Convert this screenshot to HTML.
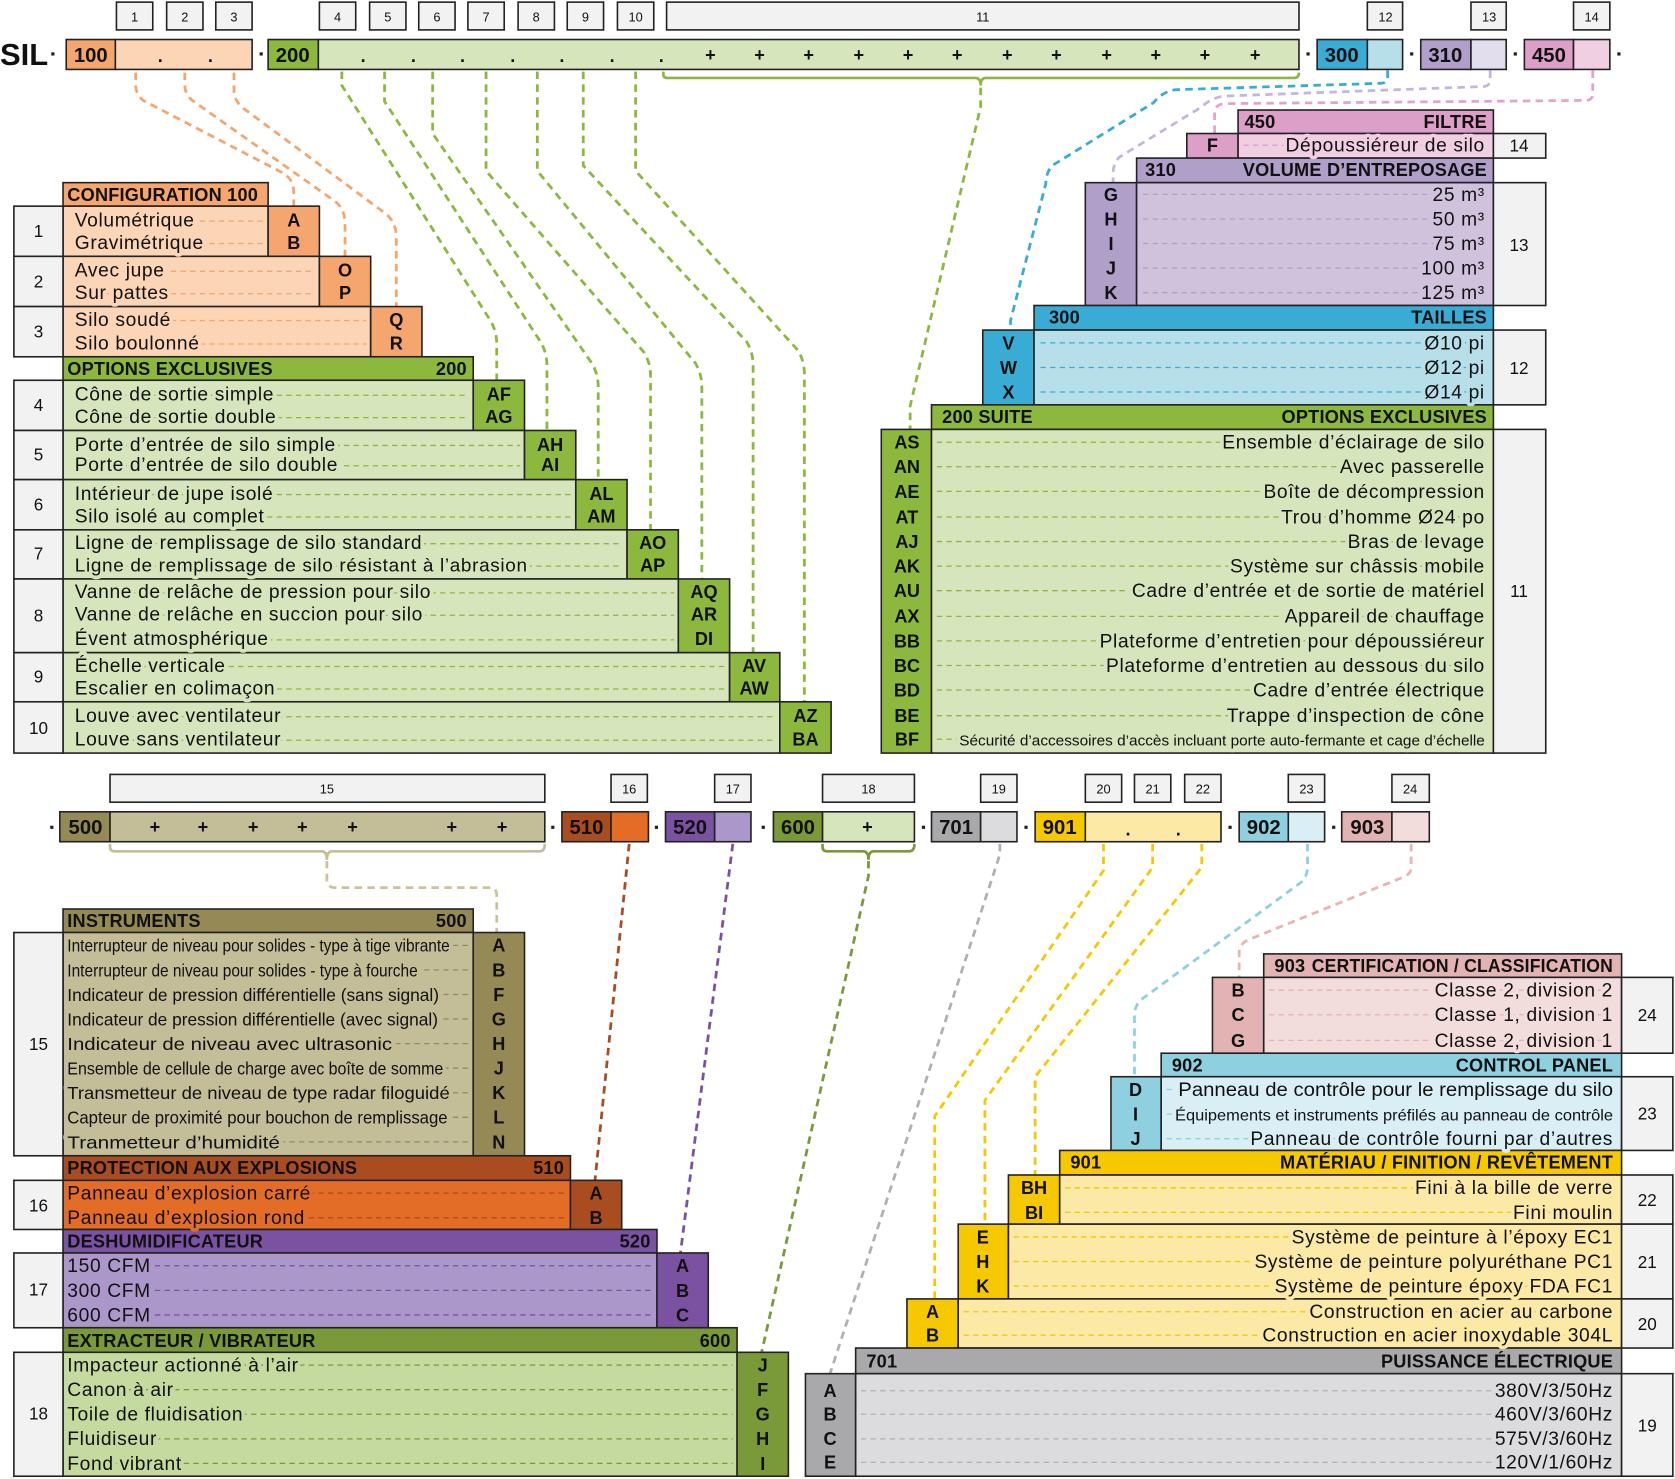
<!DOCTYPE html>
<html><head><meta charset="utf-8">
<style>
html,body{margin:0;padding:0;background:#fff}
svg{display:block}
text{font-family:"Liberation Sans",sans-serif;fill:#111}
.t{font-size:18px;letter-spacing:0.6px;paint-order:stroke;stroke-width:7px;stroke-linejoin:round}
.h{font-size:17px;font-weight:bold;letter-spacing:0.2px}
.c{font-size:17px;font-weight:bold;text-anchor:middle}
.n{font-size:12px;text-anchor:middle;fill:#222}
.nb{font-size:16px;text-anchor:middle}
.e{text-anchor:end}
.bx{stroke:#222;stroke-width:1.5}
.ld{stroke-width:1.2;stroke-dasharray:5 4;fill:none}
.cn{fill:none;stroke-width:2.6;stroke-dasharray:7 5}
.k{font-size:19px;font-weight:bold;text-anchor:middle}
</style></head><body>
<svg width="1675" height="1479" viewBox="0 0 1568 1384.6" preserveAspectRatio="none" xmlns="http://www.w3.org/2000/svg">
<rect width="1568" height="1385" fill="#fff"/>

<g fill="#f2f2f2" class="bx">
<rect x="109" y="2" width="34" height="26"/><rect x="156" y="2" width="34" height="26"/><rect x="202" y="2" width="34" height="26"/>
<rect x="299" y="2" width="34" height="26"/><rect x="346" y="2" width="34" height="26"/><rect x="392" y="2" width="34" height="26"/>
<rect x="438" y="2" width="34" height="26"/><rect x="485" y="2" width="34" height="26"/><rect x="531" y="2" width="34" height="26"/>
<rect x="578" y="2" width="34" height="26"/><rect x="624" y="2" width="592" height="26"/>
<rect x="1280" y="2" width="33" height="26"/><rect x="1377" y="2" width="33" height="26"/><rect x="1473" y="2" width="34" height="26"/>
</g>
<g class="n">
<text x="126" y="20">1</text><text x="173" y="20">2</text><text x="219" y="20">3</text><text x="316" y="20">4</text><text x="363" y="20">5</text>
<text x="409" y="20">6</text><text x="455" y="20">7</text><text x="502" y="20">8</text><text x="548" y="20">9</text><text x="595" y="20">10</text>
<text x="920" y="20">11</text><text x="1297" y="20">12</text><text x="1394" y="20">13</text><text x="1490" y="20">14</text>
</g>

<text x="0" y="61" style="font-size:29px;font-weight:bold">SIL</text>
<g fill="#222"><rect x="48" y="49" width="3" height="3"/><rect x="243" y="49" width="3" height="3"/><rect x="1223" y="49" width="3" height="3"/><rect x="1320" y="49" width="3" height="3"/><rect x="1417" y="49" width="3" height="3"/><rect x="1514" y="49" width="3" height="3"/></g>
<g class="bx">
<rect x="62" y="37" width="46" height="28" fill="#f5a66e"/><rect x="108" y="37" width="128" height="28" fill="#fbd5b5"/>
<rect x="251" y="37" width="47" height="28" fill="#8db83e"/><rect x="298" y="37" width="918" height="28" fill="#d7e5bd"/>
<rect x="1233" y="37" width="47" height="28" fill="#39acd6"/><rect x="1280" y="37" width="33" height="28" fill="#b6dfea"/>
<rect x="1330" y="37" width="47" height="28" fill="#b09fc8"/><rect x="1377" y="37" width="33" height="28" fill="#e3deed"/>
<rect x="1427" y="37" width="46" height="28" fill="#dc9fc8"/><rect x="1473" y="37" width="34" height="28" fill="#f0cfe3"/>
</g>
<g class="k"><text x="85" y="58">100</text><text x="274" y="58">200</text><text x="1256" y="58">300</text><text x="1353" y="58">310</text><text x="1450" y="58">450</text></g>
<g class="k" style="font-size:17px">
<text x="150" y="58">.</text><text x="197" y="58">.</text>
<text x="340" y="58">.</text><text x="387" y="58">.</text><text x="433" y="58">.</text><text x="480" y="58">.</text><text x="526" y="58">.</text><text x="573" y="58">.</text><text x="619" y="58">.</text>
<text x="665" y="57">+</text><text x="711" y="57">+</text><text x="757" y="57">+</text><text x="804" y="57">+</text><text x="850" y="57">+</text><text x="896" y="57">+</text>
<text x="943" y="57">+</text><text x="989" y="57">+</text><text x="1036" y="57">+</text><text x="1082" y="57">+</text><text x="1128" y="57">+</text><text x="1175" y="57">+</text>
</g>
<path d="M621,67 V70 Q621,73 625,73 H913 Q918,73 918,80 Q918,73 923,73 H1211 Q1216,73 1216,68" fill="none" stroke="#8db83e" stroke-width="2.5"/>

<g class="cn" stroke="#f5a66e">
<path d="M127,68 V80 Q127,88 134,94 L265,162 Q275,168 275,180 V195"/>
<path d="M173,68 V80 Q173,88 180,94 L313,188 Q323,195 323,210 V241"/>
<path d="M219,68 V85 Q219,93 226,100 L361,200 Q371,208 371,222 V288"/>
</g>
<g class="cn" stroke="#8db83e">
<path d="M320,67 V80 L459,300 Q465,310 465,322 V357"/>
<path d="M360,67 V95 L506,320 Q512,330 512,342 V404"/>
<path d="M405,67 V125 L554,340 Q560,350 560,362 V450"/>
<path d="M455,67 V160 L603,330 Q609,340 609,352 V497"/>
<path d="M503,67 V160 L651,340 Q657,350 657,362 V543"/>
<path d="M546,67 V155 L699,320 Q705,330 705,342 V612"/>
<path d="M595,67 V160 L747,328 Q753,338 753,350 V658"/>
<path d="M918,82 V100 L852,380 V403"/>
</g>
<path class="cn" stroke="#39acd6" d="M1299,66 V72 Q1299,78 1292,78 L1100,84 Q1088,86 1080,96 L985,155 Q979,162 979,172 L946,300 V310"/>
<path class="cn" stroke="#c6b5dc" d="M1395,66 V74 Q1395,81 1388,81 L1145,90 Q1133,92 1125,100 L1048,147 Q1042,153 1042,162 V172"/>
<path class="cn" stroke="#e2a3cf" d="M1491,66 V88 Q1491,94 1484,94 L1146,97 Q1137,98 1137,106 V126"/>

<g class="bx">
<rect x="59" y="171" width="192" height="22" fill="#f5a66e"/>
<rect x="59" y="193" width="192" height="47" fill="#fbd5b5"/><rect x="251" y="193" width="48" height="47" fill="#f5a66e"/>
<rect x="59" y="240" width="240" height="47" fill="#fbd5b5"/><rect x="299" y="240" width="48" height="47" fill="#f5a66e"/>
<rect x="59" y="287" width="288" height="47" fill="#fbd5b5"/><rect x="347" y="287" width="48" height="47" fill="#f5a66e"/>
<rect x="59" y="334" width="384" height="22" fill="#8db83e"/>
<rect x="59" y="356" width="384" height="47" fill="#d7e5bd"/><rect x="443" y="356" width="48" height="47" fill="#8db83e"/>
<rect x="59" y="403" width="432" height="46" fill="#d7e5bd"/><rect x="491" y="403" width="48" height="46" fill="#8db83e"/>
<rect x="59" y="449" width="480" height="47" fill="#d7e5bd"/><rect x="539" y="449" width="48" height="47" fill="#8db83e"/>
<rect x="59" y="496" width="528" height="46" fill="#d7e5bd"/><rect x="587" y="496" width="48" height="46" fill="#8db83e"/>
<rect x="59" y="542" width="576" height="69" fill="#d7e5bd"/><rect x="635" y="542" width="48" height="69" fill="#8db83e"/>
<rect x="59" y="611" width="624" height="46" fill="#d7e5bd"/><rect x="683" y="611" width="47" height="46" fill="#8db83e"/>
<rect x="59" y="657" width="671" height="48" fill="#d7e5bd"/><rect x="730" y="657" width="48" height="48" fill="#8db83e"/>
</g>
<g class="bx" fill="#f2f2f2">
<rect x="13" y="193" width="46" height="47"/><rect x="13" y="240" width="46" height="47"/><rect x="13" y="287" width="46" height="47"/>
<rect x="13" y="356" width="46" height="47"/><rect x="13" y="403" width="46" height="46"/><rect x="13" y="449" width="46" height="47"/>
<rect x="13" y="496" width="46" height="46"/><rect x="13" y="542" width="46" height="69"/><rect x="13" y="611" width="46" height="46"/><rect x="13" y="657" width="46" height="48"/>
</g>
<g class="nb"><text x="36" y="222">1</text><text x="36" y="269">2</text><text x="36" y="316">3</text><text x="36" y="385">4</text><text x="36" y="431">5</text><text x="36" y="478">6</text><text x="36" y="524">7</text><text x="36" y="582">8</text><text x="36" y="639">9</text><text x="36" y="687">10</text></g>
<g class="h"><text x="63" y="188">CONFIGURATION 100</text><text x="63" y="351">OPTIONS EXCLUSIVES</text><text x="437" y="351" class="e">200</text></g>
<g class="ld" stroke="#f5a66e">
<path d="M70,207H247M70,228H247M70,254H295M70,275H295M70,300H343M70,322H343"/>
</g>
<g class="ld" stroke="#8db83e">
<path d="M70,370H439M70,391H439M70,417H487M70,436H487M70,463H535M70,484H535M70,509H583M70,530H583M70,555H631M70,576H631M70,599H631M70,624H679M70,645H679M70,671H726M70,693H726"/>
</g>
<g class="t" style="stroke:#fbd5b5">
<text x="70" y="212">Volumétrique</text><text x="70" y="233">Gravimétrique</text>
<text x="70" y="259">Avec jupe</text><text x="70" y="280">Sur pattes</text>
<text x="70" y="305">Silo soudé</text><text x="70" y="327">Silo boulonné</text>
</g>
<g class="t" style="stroke:#d7e5bd">
<text x="70" y="375">Cône de sortie simple</text><text x="70" y="396">Cône de sortie double</text>
<text x="70" y="422">Porte d’entrée de silo simple</text><text x="70" y="441">Porte d’entrée de silo double</text>
<text x="70" y="468">Intérieur de jupe isolé</text><text x="70" y="489">Silo isolé au complet</text>
<text x="70" y="514">Ligne de remplissage de silo standard</text><text x="70" y="535" textLength="424" lengthAdjust="spacingAndGlyphs" style="font-size:17px">Ligne de remplissage de silo résistant à l’abrasion</text>
<text x="70" y="560">Vanne de relâche de pression pour silo</text><text x="70" y="581">Vanne de relâche en succion pour silo</text><text x="70" y="604">Évent atmosphérique</text>
<text x="70" y="629">Échelle verticale</text><text x="70" y="650">Escalier en colimaçon</text>
<text x="70" y="676">Louve avec ventilateur</text><text x="70" y="698">Louve sans ventilateur</text>
</g>
<g class="c">
<text x="275" y="212">A</text><text x="275" y="233">B</text><text x="323" y="259">O</text><text x="323" y="280">P</text><text x="371" y="305">Q</text><text x="371" y="327">R</text>
<text x="467" y="375">AF</text><text x="467" y="396">AG</text><text x="515" y="422">AH</text><text x="515" y="441">AI</text>
<text x="563" y="468">AL</text><text x="563" y="489">AM</text><text x="611" y="514">AO</text><text x="611" y="535">AP</text>
<text x="659" y="560">AQ</text><text x="659" y="581">AR</text><text x="659" y="604">DI</text>
<text x="706" y="629">AV</text><text x="706" y="650">AW</text><text x="754" y="676">AZ</text><text x="754" y="698">BA</text>
</g>

<g class="bx">
<rect x="1159" y="103" width="239" height="22" fill="#dc9fc8"/>
<rect x="1111" y="125" width="48" height="23" fill="#dc9fc8"/><rect x="1159" y="125" width="239" height="23" fill="#f0cfe3"/><rect x="1398" y="125" width="49" height="23" fill="#f2f2f2"/>
<rect x="1064" y="148" width="334" height="23" fill="#b09fc8"/>
<rect x="1016" y="171" width="48" height="115" fill="#b09fc8"/><rect x="1064" y="171" width="334" height="115" fill="#d0c2dd"/><rect x="1398" y="171" width="49" height="115" fill="#f2f2f2"/>
<rect x="968" y="286" width="430" height="23" fill="#39acd6"/>
<rect x="920" y="309" width="48" height="70" fill="#39acd6"/><rect x="968" y="309" width="430" height="70" fill="#b6dfea"/><rect x="1398" y="309" width="49" height="70" fill="#f2f2f2"/>
<rect x="872" y="379" width="526" height="23" fill="#8db83e"/>
<rect x="825" y="402" width="47" height="303" fill="#8db83e"/><rect x="872" y="402" width="526" height="303" fill="#d7e5bd"/><rect x="1398" y="402" width="49" height="303" fill="#f2f2f2"/>
</g>
<g class="h">
<text x="1165" y="120">450</text><text x="1392" y="120" class="e">FILTRE</text>
<text x="1072" y="165">310</text><text x="1392" y="165" class="e">VOLUME D’ENTREPOSAGE</text>
<text x="982" y="303">300</text><text x="1392" y="303" class="e">TAILLES</text>
<text x="882" y="396">200 SUITE</text><text x="1392" y="396" class="e">OPTIONS EXCLUSIVES</text>
</g>
<g class="nb"><text x="1422" y="142">14</text><text x="1422" y="235">13</text><text x="1422" y="350">12</text><text x="1422" y="559">11</text></g>
<path class="ld" stroke="#dc9fc8" d="M1164,136H1385"/>
<path class="ld" stroke="#b09fc8" d="M1070,182H1385M1070,205H1385M1070,228H1385M1070,251H1385M1070,274H1385"/>
<path class="ld" stroke="#39acd6" d="M974,321H1385M974,344H1385M974,367H1385"/>
<path class="ld" stroke="#8db83e" d="M877,414H1385M877,437H1385M877,460H1385M877,484H1385M877,507H1385M877,530H1385M877,553H1385M877,577H1385M877,600H1385M877,623H1385M877,646H1385M877,670H1385M877,692H1385"/>
<g class="t e">
<text x="1390" y="142" style="stroke:#f0cfe3">Dépoussiéreur de silo</text>
<g style="stroke:#d0c2dd"><text x="1390" y="188">25 m³</text><text x="1390" y="211">50 m³</text><text x="1390" y="234">75 m³</text><text x="1390" y="257">100 m³</text><text x="1390" y="280">125 m³</text></g>
<g style="stroke:#b6dfea"><text x="1390" y="327">Ø10 pi</text><text x="1390" y="350">Ø12 pi</text><text x="1390" y="373">Ø14 pi</text></g>
<g style="stroke:#d7e5bd">
<text x="1390" y="420">Ensemble d’éclairage de silo</text><text x="1390" y="443">Avec passerelle</text><text x="1390" y="466">Boîte de décompression</text>
<text x="1390" y="490">Trou d’homme Ø24 po</text><text x="1390" y="513">Bras de levage</text><text x="1390" y="536">Système sur châssis mobile</text>
<text x="1390" y="559">Cadre d’entrée et de sortie de matériel</text><text x="1390" y="583">Appareil de chauffage</text>
<text x="1390" y="606">Plateforme d’entretien pour dépoussiéreur</text><text x="1390" y="629">Plateforme d’entretien au dessous du silo</text>
<text x="1390" y="652">Cadre d’entrée électrique</text><text x="1390" y="676">Trappe d’inspection de cône</text>
<text x="1390" y="698" style="font-size:14px;letter-spacing:0" textLength="492" lengthAdjust="spacingAndGlyphs">Sécurité d’accessoires d’accès incluant porte auto-fermante et cage d’échelle</text>
</g>
</g>
<g class="c">
<text x="1135" y="142">F</text>
<text x="1040" y="188">G</text><text x="1040" y="211">H</text><text x="1040" y="234">I</text><text x="1040" y="257">J</text><text x="1040" y="280">K</text>
<text x="944" y="327">V</text><text x="944" y="350">W</text><text x="944" y="373">X</text>
<text x="849" y="420">AS</text><text x="849" y="443">AN</text><text x="849" y="466">AE</text><text x="849" y="490">AT</text><text x="849" y="513">AJ</text><text x="849" y="536">AK</text><text x="849" y="559">AU</text>
<text x="849" y="583">AX</text><text x="849" y="606">BB</text><text x="849" y="629">BC</text><text x="849" y="652">BD</text><text x="849" y="676">BE</text><text x="849" y="698">BF</text>
</g>

<g fill="#f2f2f2" class="bx">
<rect x="103" y="725" width="407" height="26"/><rect x="572" y="725" width="34" height="26"/><rect x="669" y="725" width="34" height="26"/>
<rect x="770" y="725" width="86" height="26"/><rect x="918" y="725" width="34" height="26"/><rect x="1016" y="725" width="34" height="26"/>
<rect x="1062" y="725" width="34" height="26"/><rect x="1109" y="725" width="34" height="26"/><rect x="1206" y="725" width="34" height="26"/><rect x="1303" y="725" width="35" height="26"/>
</g>
<g class="n">
<text x="306" y="743">15</text><text x="589" y="743">16</text><text x="686" y="743">17</text><text x="813" y="743">18</text><text x="935" y="743">19</text>
<text x="1033" y="743">20</text><text x="1079" y="743">21</text><text x="1126" y="743">22</text><text x="1223" y="743">23</text><text x="1320" y="743">24</text>
</g>
<g fill="#222"><rect x="47" y="773" width="3" height="3"/><rect x="516" y="773" width="3" height="3"/><rect x="613" y="773" width="3" height="3"/><rect x="713" y="773" width="3" height="3"/><rect x="863" y="773" width="3" height="3"/><rect x="959" y="773" width="3" height="3"/><rect x="1150" y="773" width="3" height="3"/><rect x="1247" y="773" width="3" height="3"/></g>
<g class="bx">
<rect x="56" y="760" width="47" height="28" fill="#958a55"/><rect x="103" y="760" width="407" height="28" fill="#c3bd98"/>
<rect x="526" y="760" width="46" height="28" fill="#a94d21"/><rect x="572" y="760" width="35" height="28" fill="#e36c27"/>
<rect x="623" y="760" width="46" height="28" fill="#7b52a2"/><rect x="669" y="760" width="34" height="28" fill="#ab97c9"/>
<rect x="724" y="760" width="46" height="28" fill="#7a9a3a"/><rect x="770" y="760" width="86" height="28" fill="#d7e5bd"/>
<rect x="872" y="760" width="46" height="28" fill="#a9a9ab"/><rect x="918" y="760" width="34" height="28" fill="#dcdcde"/>
<rect x="969" y="760" width="47" height="28" fill="#f6c800"/><rect x="1016" y="760" width="127" height="28" fill="#fbe9a5"/>
<rect x="1160" y="760" width="46" height="28" fill="#8fd0e0"/><rect x="1206" y="760" width="34" height="28" fill="#d9eff5"/>
<rect x="1256" y="760" width="47" height="28" fill="#e3b3b3"/><rect x="1303" y="760" width="35" height="28" fill="#f2dcdc"/>
</g>
<g class="k"><text x="80" y="781">500</text><text x="549" y="781">510</text><text x="646" y="781">520</text><text x="747" y="781">600</text><text x="895" y="781">701</text><text x="992" y="781">901</text><text x="1183" y="781">902</text><text x="1280" y="781">903</text></g>
<g class="k" style="font-size:17px">
<text x="145" y="780">+</text><text x="190" y="780">+</text><text x="237" y="780">+</text><text x="283" y="780">+</text><text x="330" y="780">+</text><text x="423" y="780">+</text><text x="470" y="780">+</text>
<text x="812" y="780">+</text><text x="1056" y="782">.</text><text x="1103" y="782">.</text>
</g>
<path d="M103,790 V793 Q103,797 108,797 H301 Q306,797 306,805 Q306,797 311,797 H505 Q510,797 510,790" fill="none" stroke="#c3bd98" stroke-width="2.5"/>
<path d="M770,790 V793 Q770,797 775,797 H808 Q813,797 813,805 Q813,797 818,797 H851 Q856,797 856,790" fill="none" stroke="#7a9a3a" stroke-width="2.5"/>

<path class="cn" stroke="#c9c29a" d="M306,806 V824 Q306,831 314,831 H458 Q465,831 465,838 V876"/>
<path class="cn" stroke="#a94d21" d="M589,790 L557,1105"/>
<path class="cn" stroke="#7b52a2" d="M686,790 L637,1173"/>
<path class="cn" stroke="#7a9a3a" d="M813,806 V820 L713,1266"/>
<path class="cn" stroke="#b0b0b2" d="M936,790 V800 L777,1286"/>
<g class="cn" stroke="#f6c800">
<path d="M1033,790 V815 L875,1045 V1216"/>
<path d="M1079,790 V812 L922,1030 V1146"/>
<path d="M1125,790 V812 L969,1008 V1100"/>
</g>
<path class="cn" stroke="#8fd0e0" d="M1224,790 V812 Q1224,820 1218,826 L1068,936 Q1062,942 1062,950 V1008"/>
<path class="cn" stroke="#e9b4b4" d="M1321,790 V812 Q1321,818 1314,821 L1168,880 Q1160,884 1160,892 V915"/>

<g class="bx">
<rect x="59" y="851" width="384" height="22" fill="#958a55"/>
<rect x="59" y="873" width="384" height="209" fill="#c3bd98"/><rect x="443" y="873" width="48" height="209" fill="#958a55"/>
<rect x="59" y="1082" width="475" height="23" fill="#a94d21"/>
<rect x="59" y="1105" width="475" height="46" fill="#e36c27"/><rect x="534" y="1105" width="48" height="46" fill="#a94d21"/>
<rect x="59" y="1151" width="556" height="22" fill="#7b52a2"/>
<rect x="59" y="1173" width="556" height="70" fill="#ab97c9"/><rect x="615" y="1173" width="48" height="70" fill="#7b52a2"/>
<rect x="59" y="1243" width="631" height="23" fill="#7a9a3a"/>
<rect x="59" y="1266" width="631" height="116" fill="#c5da9e"/><rect x="690" y="1266" width="48" height="116" fill="#7a9a3a"/>
</g>
<g class="bx" fill="#f2f2f2">
<rect x="13" y="873" width="46" height="209"/><rect x="13" y="1105" width="46" height="46"/><rect x="13" y="1173" width="46" height="70"/><rect x="13" y="1266" width="46" height="116"/>
</g>
<g class="nb"><text x="36" y="983">15</text><text x="36" y="1134">16</text><text x="36" y="1213">17</text><text x="36" y="1329">18</text></g>
<g class="h">
<text x="63" y="868">INSTRUMENTS</text><text x="437" y="868" class="e">500</text>
<text x="63" y="1099">PROTECTION AUX EXPLOSIONS</text><text x="528" y="1099" class="e">510</text>
<text x="63" y="1168">DESHUMIDIFICATEUR</text><text x="609" y="1168" class="e">520</text>
<text x="63" y="1261">EXTRACTEUR / VIBRATEUR</text><text x="684" y="1261" class="e">600</text>
</g>
<path class="ld" stroke="#958a55" d="M64,885H439M64,908H439M64,931H439M64,954H439M64,977H439M64,1000H439M64,1023H439M64,1046H439M64,1069H439"/>
<path class="ld" stroke="#a94d21" d="M64,1117H530M64,1140H530"/>
<path class="ld" stroke="#7b52a2" d="M64,1185H611M64,1208H611M64,1231H611"/>
<path class="ld" stroke="#7a9a3a" d="M64,1278H686M64,1301H686M64,1324H686M64,1347H686M64,1370H686"/>
<g class="t" style="stroke:#c3bd98;font-size:16px;letter-spacing:0">
<text x="63" y="891" textLength="358" lengthAdjust="spacingAndGlyphs">Interrupteur de niveau pour solides - type à tige vibrante</text>
<text x="63" y="914" textLength="328" lengthAdjust="spacingAndGlyphs">Interrupteur de niveau pour solides - type à fourche</text>
<text x="63" y="937" textLength="348" lengthAdjust="spacingAndGlyphs">Indicateur de pression différentielle (sans signal)</text>
<text x="63" y="960" textLength="347" lengthAdjust="spacingAndGlyphs">Indicateur de pression différentielle (avec signal)</text>
<text x="63" y="983" textLength="304" lengthAdjust="spacingAndGlyphs">Indicateur de niveau avec ultrasonic</text>
<text x="63" y="1006" textLength="352" lengthAdjust="spacingAndGlyphs">Ensemble de cellule de charge avec boîte de somme</text>
<text x="63" y="1029" textLength="358" lengthAdjust="spacingAndGlyphs">Transmetteur de niveau de type radar filoguidé</text>
<text x="63" y="1052" textLength="356" lengthAdjust="spacingAndGlyphs">Capteur de proximité pour bouchon de remplissage</text>
<text x="63" y="1075" textLength="199" lengthAdjust="spacingAndGlyphs">Tranmetteur d’humidité</text>
</g>
<g class="t" style="stroke:#e36c27"><text x="63" y="1123">Panneau d’explosion carré</text><text x="63" y="1146">Panneau d’explosion rond</text></g>
<g class="t" style="stroke:#ab97c9"><text x="63" y="1191">150 CFM</text><text x="63" y="1214">300 CFM</text><text x="63" y="1237">600 CFM</text></g>
<g class="t" style="stroke:#c5da9e"><text x="63" y="1284">Impacteur actionné à l’air</text><text x="63" y="1307">Canon à air</text><text x="63" y="1330">Toile de fluidisation</text><text x="63" y="1353">Fluidiseur</text><text x="63" y="1376">Fond vibrant</text></g>
<g class="c">
<text x="467" y="891">A</text><text x="467" y="914">B</text><text x="467" y="937">F</text><text x="467" y="960">G</text><text x="467" y="983">H</text><text x="467" y="1006">J</text><text x="467" y="1029">K</text><text x="467" y="1052">L</text><text x="467" y="1075">N</text>
<text x="558" y="1123">A</text><text x="558" y="1146">B</text>
<text x="639" y="1191">A</text><text x="639" y="1214">B</text><text x="639" y="1237">C</text>
<text x="714" y="1284">J</text><text x="714" y="1307">F</text><text x="714" y="1330">G</text><text x="714" y="1353">H</text><text x="714" y="1376">I</text>
</g>

<g class="bx">
<rect x="1183" y="893" width="335" height="22" fill="#e3b3b3"/>
<rect x="1135" y="915" width="48" height="71" fill="#e3b3b3"/><rect x="1183" y="915" width="335" height="71" fill="#f2dcdc"/><rect x="1518" y="915" width="48" height="71" fill="#f2f2f2"/>
<rect x="1087" y="986" width="431" height="22" fill="#8fd0e0"/>
<rect x="1040" y="1008" width="47" height="69" fill="#8fd0e0"/><rect x="1087" y="1008" width="431" height="69" fill="#d9eff5"/><rect x="1518" y="1008" width="48" height="69" fill="#f2f2f2"/>
<rect x="992" y="1077" width="526" height="23" fill="#f6c800"/>
<rect x="944" y="1100" width="48" height="46" fill="#f6c800"/><rect x="992" y="1100" width="526" height="46" fill="#fbe9a5"/><rect x="1518" y="1100" width="48" height="46" fill="#f2f2f2"/>
<rect x="897" y="1146" width="47" height="70" fill="#f6c800"/><rect x="944" y="1146" width="574" height="70" fill="#fbe9a5"/><rect x="1518" y="1146" width="48" height="70" fill="#f2f2f2"/>
<rect x="849" y="1216" width="48" height="46" fill="#f6c800"/><rect x="897" y="1216" width="621" height="46" fill="#fbe9a5"/><rect x="1518" y="1216" width="48" height="46" fill="#f2f2f2"/>
<rect x="801" y="1262" width="717" height="24" fill="#a9a9ab"/>
<rect x="754" y="1286" width="47" height="96" fill="#a9a9ab"/><rect x="801" y="1286" width="717" height="96" fill="#dcdcde"/><rect x="1518" y="1286" width="48" height="96" fill="#f2f2f2"/>
</g>
<g class="h">
<text x="1193" y="910">903</text><text x="1510" y="910" class="e" textLength="282" lengthAdjust="spacingAndGlyphs">CERTIFICATION / CLASSIFICATION</text>
<text x="1097" y="1003">902</text><text x="1510" y="1003" class="e">CONTROL PANEL</text>
<text x="1002" y="1094">901</text><text x="1510" y="1094" class="e">MATÉRIAU / FINITION / REVÊTEMENT</text>
<text x="811" y="1280">701</text><text x="1510" y="1280" class="e">PUISSANCE ÉLECTRIQUE</text>
</g>
<g class="nb"><text x="1542" y="956">24</text><text x="1542" y="1048">23</text><text x="1542" y="1129">22</text><text x="1542" y="1187">21</text><text x="1542" y="1245">20</text><text x="1542" y="1340">19</text></g>
<path class="ld" stroke="#e3b3b3" d="M1188,927H1505M1188,950H1505M1188,974H1505"/>
<path class="ld" stroke="#8fd0e0" d="M1092,1020H1505M1092,1043H1505M1092,1066H1505"/>
<path class="ld" stroke="#f6c800" d="M997,1112H1505M997,1135H1505M949,1158H1505M949,1181H1505M949,1204H1505M902,1228H1505M902,1250H1505"/>
<path class="ld" stroke="#b0b0b2" d="M806,1302H1505M806,1324H1505M806,1347H1505M806,1369H1505"/>
<g class="t e">
<g style="stroke:#f2dcdc"><text x="1510" y="933">Classe 2, division 2</text><text x="1510" y="956">Classe 1, division 1</text><text x="1510" y="980">Classe 2, division 1</text></g>
<g style="stroke:#d9eff5"><text x="1510" y="1026" textLength="407" lengthAdjust="spacingAndGlyphs" style="letter-spacing:0">Panneau de contrôle pour le remplissage du silo</text><text x="1510" y="1049" style="font-size:15px;letter-spacing:0" textLength="410" lengthAdjust="spacingAndGlyphs">Équipements et instruments préfilés au panneau de contrôle</text><text x="1510" y="1072">Panneau de contrôle fourni par d’autres</text></g>
<g style="stroke:#fbe9a5"><text x="1510" y="1118">Fini à la bille de verre</text><text x="1510" y="1141">Fini moulin</text>
<text x="1510" y="1164">Système de peinture à l’époxy EC1</text><text x="1510" y="1187">Système de peinture polyuréthane PC1</text><text x="1510" y="1210">Système de peinture époxy FDA FC1</text>
<text x="1510" y="1234">Construction en acier au carbone</text><text x="1510" y="1256">Construction en acier inoxydable 304L</text></g>
<g style="stroke:#dcdcde"><text x="1510" y="1308">380V/3/50Hz</text><text x="1510" y="1330">460V/3/60Hz</text><text x="1510" y="1353">575V/3/60Hz</text><text x="1510" y="1375">120V/1/60Hz</text></g>
</g>
<g class="c">
<text x="1159" y="933">B</text><text x="1159" y="956">C</text><text x="1159" y="980">G</text>
<text x="1063" y="1026">D</text><text x="1063" y="1049">I</text><text x="1063" y="1072">J</text>
<text x="968" y="1118">BH</text><text x="968" y="1141">BI</text>
<text x="920" y="1164">E</text><text x="920" y="1187">H</text><text x="920" y="1210">K</text>
<text x="873" y="1234">A</text><text x="873" y="1256">B</text>
<text x="777" y="1308">A</text><text x="777" y="1330">B</text><text x="777" y="1353">C</text><text x="777" y="1375">E</text>
</g>
</svg>
</body></html>
